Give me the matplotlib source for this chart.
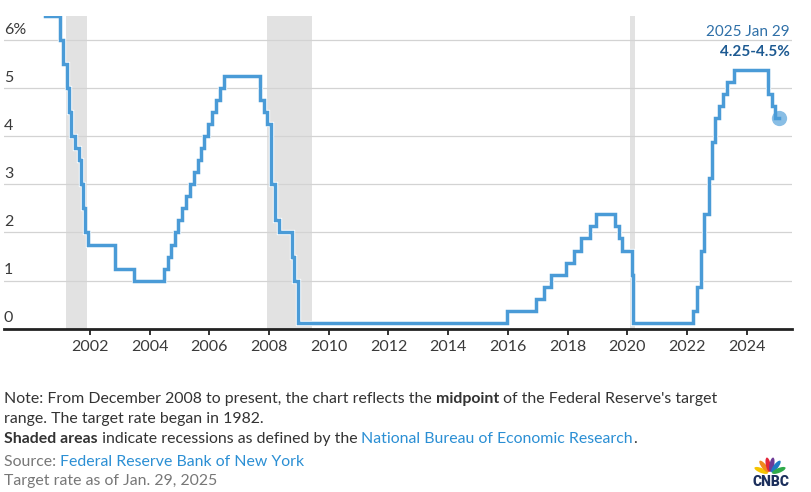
import numpy as np
import pandas as pd
import matplotlib
matplotlib.use("Agg")
import matplotlib.pyplot as plt
import matplotlib.patheffects as pe
from matplotlib.patches import Ellipse

# Fed funds target rate (midpoint of range after Dec 2008)
dates = ["2000-06-28", "2001-01-03", "2001-01-31", "2001-03-20", "2001-04-18",
         "2001-05-15", "2001-06-27", "2001-08-21", "2001-09-17", "2001-10-02",
         "2001-11-06", "2001-12-11", "2002-11-06", "2003-06-25", "2004-06-30",
         "2004-08-10", "2004-09-21", "2004-11-10", "2004-12-14", "2005-02-02",
         "2005-03-22", "2005-05-03", "2005-06-30", "2005-08-09", "2005-09-20",
         "2005-11-01", "2005-12-13", "2006-01-31", "2006-03-28", "2006-05-10",
         "2006-06-29", "2007-09-18", "2007-10-31", "2007-12-11", "2008-01-22",
         "2008-01-30", "2008-03-18", "2008-04-30", "2008-10-08", "2008-10-29",
         "2008-12-16", "2015-12-16", "2016-12-14", "2017-03-15", "2017-06-14",
         "2017-12-13", "2018-03-21", "2018-06-13", "2018-09-26", "2018-12-19",
         "2019-07-31", "2019-09-18", "2019-10-30", "2020-03-03", "2020-03-15",
         "2022-03-16", "2022-05-04", "2022-06-15", "2022-07-27", "2022-09-21",
         "2022-11-02", "2022-12-14", "2023-02-01", "2023-03-22", "2023-05-03",
         "2023-07-26", "2024-09-18", "2024-11-07", "2024-12-18", "2025-01-29"]
rates = [6.5, 6.0, 5.5, 5.0, 4.5,
         4.0, 3.75, 3.5, 3.0, 2.5,
         2.0, 1.75, 1.25, 1.0, 1.25,
         1.5, 1.75, 2.0, 2.25, 2.5,
         2.75, 3.0, 3.25, 3.5, 3.75,
         4.0, 4.25, 4.5, 4.75, 5.0,
         5.25, 4.75, 4.5, 4.25, 3.5,
         3.0, 2.25, 2.0, 1.5, 1.0,
         0.125, 0.375, 0.625, 0.875, 1.125,
         1.375, 1.625, 1.875, 2.125, 2.375,
         2.125, 1.875, 1.625, 1.125, 0.125,
         0.375, 0.875, 1.625, 2.375, 3.125,
         3.875, 4.375, 4.625, 4.875, 5.125,
         5.375, 4.875, 4.625, 4.375, 4.375]

recessions = [("2001-03-15", "2001-11-30"), ("2007-12-01", "2009-06-10"), ("2020-02-05", "2020-04-01")]
ytick_vals = [0, 1, 2, 3, 4, 5, 6]
ytick_labels = ["0", "1", "2", "3", "4", "5", "6%"]
xtick_years = list(range(2002, 2025, 2))

last_date_label = "2025 Jan 29"
last_value_label = "4.25-4.5%"

LINE = "#4a9bd7"
FONT = ["Lato", "DejaVu Sans"]
plt.rcParams["font.family"] = FONT

fig = plt.figure(figsize=(8.12, 4.92), dpi=100)
ax = fig.add_axes([4 / 812, 1 - 328.7 / 492, 788 / 812, 312.7 / 492])

x = pd.to_datetime(dates)

for start, end in recessions:
    ax.axvspan(pd.Timestamp(start), pd.Timestamp(end), color="#e2e2e2", lw=0, zorder=0)

for v in ytick_vals[1:]:
    ax.axhline(v, color="#d3d3d3", lw=0.9, zorder=1)

ax.plot(x, rates, drawstyle="steps-post", color=LINE, lw=2.5, zorder=3,
        solid_joinstyle="miter",
        path_effects=[pe.Stroke(linewidth=3.8, foreground="white"), pe.Normal()])
ax.plot(x[-1:], rates[-1:], "o", ms=11, color=LINE, alpha=0.65, mec="none", zorder=4)

ax.set_xlim(pd.Timestamp("1999-02-14"), pd.Timestamp("2025-07-08"))
ax.set_ylim(0, 6.5)

for v, lab in zip(ytick_vals, ytick_labels):
    ax.annotate(lab, xy=(0, v), xycoords=("axes fraction", "data"),
                xytext=(0, 2.5), textcoords="offset points",
                ha="left", va="bottom", fontsize=11.5, color="#3a3a3a")

ax.set_xticks([pd.Timestamp(f"{y}-01-01") for y in xtick_years])
ax.set_xticklabels([str(y) for y in xtick_years], fontsize=11.5, color="#3a3a3a")
ax.tick_params(axis="x", length=4, width=1.3, color="#222222", pad=4)
ax.set_yticks([])
for s in ["top", "right", "left"]:
    ax.spines[s].set_visible(False)
ax.spines["bottom"].set_linewidth(2)
ax.spines["bottom"].set_color("#222222")
ax.spines["bottom"].set_zorder(5)

fig.text(790 / 812, 1 - 32 / 492, last_date_label, ha="right", va="center",
         fontsize=11, color="#2f70a8")
fig.text(790 / 812, 1 - 52 / 492, last_value_label, ha="right", va="center",
         fontsize=11, color="#1d5a92", fontweight="bold")

# footer with mixed styles
renderer = fig.canvas.get_renderer()


def line_of(pieces, y_px, size=11.4):
    xpos = 4
    for txt, color, weight in pieces:
        t = fig.text(xpos / 812, 1 - y_px / 492, txt, ha="left", va="center",
                     fontsize=size, color=color, fontweight=weight)
        bb = t.get_window_extent(renderer)
        xpos += bb.width


DARK = "#333333"
GREY = "#777777"
LINK = "#2b8fd4"
line_of([("Note: From December 2008 to present, the chart reflects the ", DARK, "normal"),
         ("midpoint", DARK, "bold"),
         (" of the Federal Reserve's target", DARK, "normal")], 399)
line_of([("range. The target rate began in 1982.", DARK, "normal")], 419)
line_of([("Shaded areas", DARK, "bold"),
         (" indicate recessions as defined by the ", DARK, "normal"),
         ("National Bureau of Economic Research", LINK, "normal"),
         (".", DARK, "normal")], 439)
line_of([("Source: ", GREY, "normal"), ("Federal Reserve Bank of New York", LINK, "normal")], 462)
line_of([("Target rate as of Jan. 29, 2025", GREY, "normal")], 481)

# CNBC peacock logo (pixel-unit axes)
logo = fig.add_axes([750 / 812, 1 - 490 / 492, 42 / 812, 38 / 492])
logo.set_xlim(-21, 21)
logo.set_ylim(-19, 19)
logo.axis("off")
feather_colors = ["#f5c400", "#f08a1d", "#e2263b", "#6e3a97", "#1f7ac4", "#2faa4a"]
angles = [158, 128, 101, 79, 52, 22]
for c, a in zip(feather_colors, angles):
    r = np.deg2rad(a)
    logo.add_patch(Ellipse((-1 + 9.5 * np.cos(r), -3 + 9.5 * np.sin(r)), 4.8, 14.5,
                           angle=a - 90, color=c, lw=0))
logo.text(0, -11.5, "CNBC", ha="center", va="center", fontsize=10,
          fontweight="heavy", color="#1c2f5c", family=["Roboto", "DejaVu Sans"])

fig.savefig("out.png", dpi=100)
